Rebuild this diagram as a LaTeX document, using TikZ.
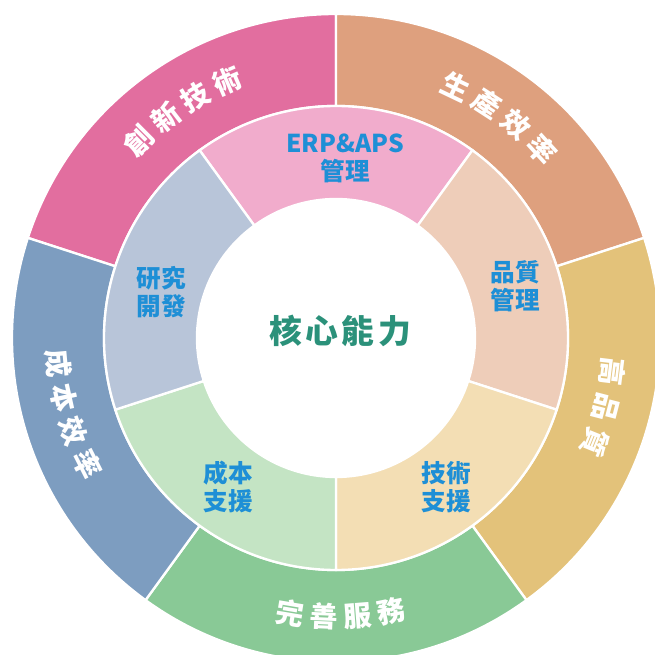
\documentclass[tikz,border=0pt]{standalone}
\usepackage{fontspec}
\newfontfamily\cjk{Noto Sans CJK TC}
\definecolor{oPink}{HTML}{E26E9F}
\definecolor{oTan}{HTML}{DEA07E}
\definecolor{oGold}{HTML}{E3C27A}
\definecolor{oGreen}{HTML}{89C996}
\definecolor{oBlue}{HTML}{7D9DC0}
\definecolor{iPink}{HTML}{F1ACCC}
\definecolor{iTan}{HTML}{EECDB9}
\definecolor{iGold}{HTML}{F3DEB4}
\definecolor{iGreen}{HTML}{C4E4C4}
\definecolor{iBlue}{HTML}{B8C5D9}
\definecolor{labBlue}{HTML}{1E8FD6}
\definecolor{coreGreen}{HTML}{2B917A}
\newcommand\ringseg[5]{%
  \filldraw[fill=#5, segline] (#1:#3) arc[start angle=#1, end angle=#2, radius=#3]
    -- (#2:#4) arc[start angle=#2, end angle=#1, radius=#4] -- cycle;}
\begin{document}
\begin{tikzpicture}[x=0.03cm, y=0.03cm,
  segline/.style={draw=white, line width=2pt},
  outerlab/.style={font=\cjk\bfseries\fontsize{24}{24}\selectfont, text=white, inner sep=0pt},
  innerlab/.style={font=\cjk\bfseries\fontsize{21}{24}\selectfont, text=labBlue, align=center, inner sep=0pt},
  corelab/.style={font=\cjk\bfseries\fontsize{28}{30}\selectfont, text=coreGreen, inner sep=0pt}]
\useasboundingbox (0,0) rectangle (655,655);
\clip (0,0) rectangle (655,655);
\fill[white] (0,0) rectangle (655,655);
\begin{scope}[shift={(336,317)}]
  % outer ring
  \ringseg{90}{162}{324}{232}{oPink}
  \ringseg{18}{90}{324}{232}{oTan}
  \ringseg{-54}{18}{324}{232}{oGold}
  \ringseg{-126}{-54}{324}{232}{oGreen}
  \ringseg{162}{234}{324}{232}{oBlue}
  % inner ring
  \ringseg{54}{126}{232}{139}{iPink}
  \ringseg{-18}{54}{232}{139}{iTan}
  \ringseg{-90}{-18}{232}{139}{iGold}
  \ringseg{198}{270}{232}{139}{iGreen}
  \ringseg{126}{198}{232}{139}{iBlue}
  \fill[white] (0,0) circle[radius=139];
  % outer labels, tops outward
  \foreach \ch [count=\i] in {創,新,技,術}
    \node[outerlab, rotate={124-(\i-2.5)*7.3-90}] (ca\i) at ({124-(\i-2.5)*7.3}:279) {\ch};
  \foreach \ch [count=\i] in {生,產,效,率}
    \node[outerlab, rotate={53.5-(\i-2.5)*7.3-90}] (cb\i) at ({53.5-(\i-2.5)*7.3}:279) {\ch};
  \foreach \ch [count=\i] in {高,品,質}
    \node[outerlab, rotate={-14.5-(\i-2)*7.5-90}] (cc\i) at ({-14.5-(\i-2)*7.5}:279) {\ch};
  % outer labels, tops inward
  \foreach \ch [count=\i] in {完,善,服,務}
    \node[outerlab, rotate={-89+(\i-2.5)*7-90+180}] (cd\i) at ({-89+(\i-2.5)*7}:279) {\ch};
  \foreach \ch [count=\i] in {成,本,效,率}
    \node[outerlab, rotate={196+(\i-2.5)*7.2+90}] (ce\i) at ({196+(\i-2.5)*7.2}:279) {\ch};
\end{scope}
% inner labels
\node[innerlab] (erp) at (345,497) {ERP\&APS\\管理};
\node[innerlab] (qual) at (515,369) {品質\\管理};
\node[innerlab] (tech) at (446,168) {技術\\支援};
\node[innerlab] (cost) at (228,168) {成本\\支援};
\node[innerlab] (rnd) at (161,363) {研究\\開發};
\node[corelab] (core) at (340,324) {核\kern3pt 心\kern3pt 能\kern3pt 力};
\end{tikzpicture}
\end{document}
